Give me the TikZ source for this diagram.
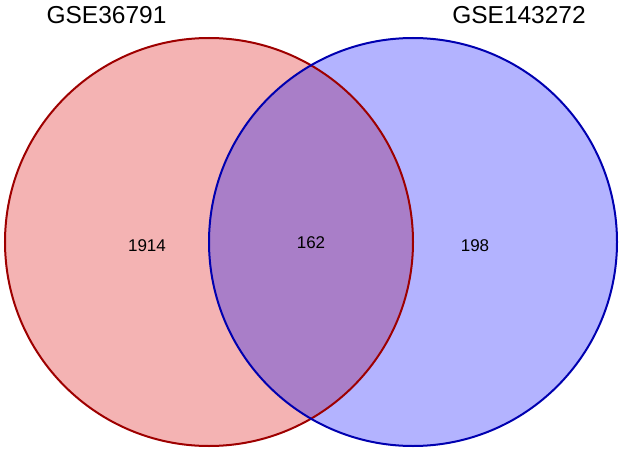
\documentclass[tikz,border=0pt]{standalone}
\usepackage{fontspec}
\setmainfont{Liberation Sans}
\definecolor{lfill}{RGB}{244,179,179}
\definecolor{rfill}{RGB}{179,179,255}
\definecolor{mfill}{RGB}{169,126,200}
\definecolor{lline}{RGB}{158,0,0}
\definecolor{rline}{RGB}{0,0,176}
\begin{document}
\begin{tikzpicture}[x=1pt,y=-1pt,
  setlabel/.style={font=\fontsize{24.5}{28}\selectfont, inner sep=0pt, anchor=center},
  countlabel/.style={font=\fontsize{17}{20}\selectfont, inner sep=0pt, anchor=center}]
\useasboundingbox (0,0) rectangle (624,452);
\fill[lfill] (209,242) circle[radius=204];
\fill[rfill] (413,242) circle[radius=204];
\begin{scope}
  \clip (209,242) circle[radius=204];
  \fill[mfill] (413,242) circle[radius=204];
\end{scope}
\draw[lline, line width=2pt] (209,242) circle[radius=204];
\draw[rline, line width=2pt] (413,242) circle[radius=204];
\node[setlabel] (gl) at (106.5,15) {GSE36791};
\node[setlabel] (gr) at (519,15) {GSE143272};
\node[countlabel] (a) at (147,246) {1914};
\node[countlabel] (b) at (311,243) {162};
\node[countlabel] (c) at (475,246) {198};
\end{tikzpicture}
\end{document}
